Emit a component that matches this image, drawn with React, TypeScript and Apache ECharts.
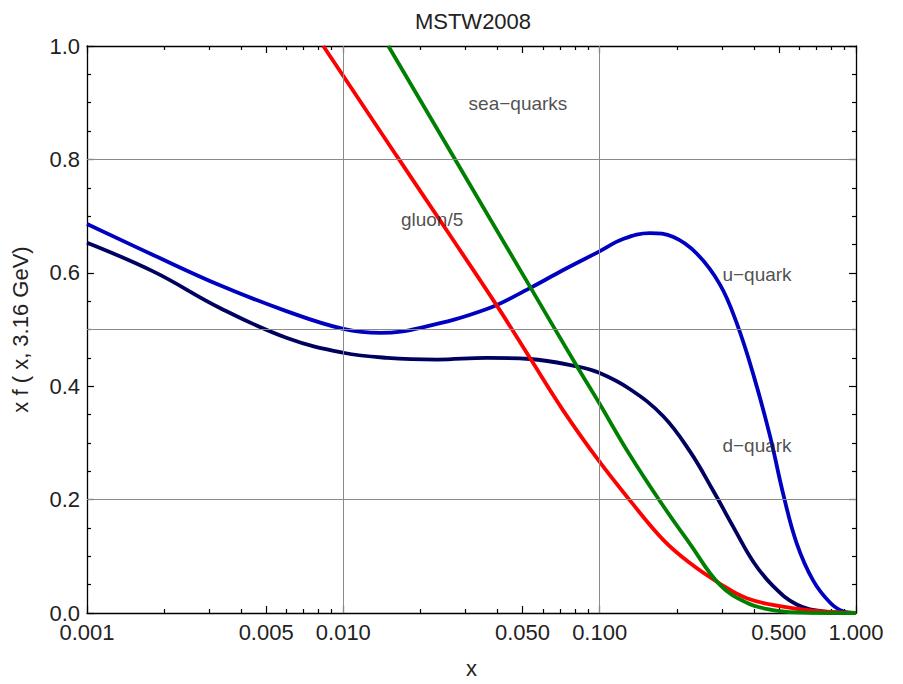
import React, { useEffect, useRef } from "react";
import * as echarts from "echarts";

// u-quark
const uX = [0.001, 0.00182, 0.0033, 0.00603, 0.01, 0.014, 0.02, 0.0363, 0.0534, 0.0721, 0.099, 0.124, 0.157, 0.194, 0.239, 0.294, 0.342, 0.398, 0.462, 0.52, 0.587, 0.681, 0.793, 0.89, 1.0];
const uY = [0.686, 0.631, 0.578, 0.532, 0.501, 0.494, 0.503, 0.536, 0.573, 0.605, 0.637, 0.66, 0.67, 0.663, 0.634, 0.58, 0.512, 0.42, 0.312, 0.21, 0.123, 0.057, 0.018, 0.003, 0];
// d-quark
const dX = [0.001, 0.00182, 0.0033, 0.00603, 0.01, 0.0148, 0.0232, 0.0363, 0.0534, 0.0813, 0.099, 0.131, 0.177, 0.225, 0.277, 0.332, 0.398, 0.476, 0.587, 0.74, 1.0];
const dY = [0.653, 0.602, 0.538, 0.485, 0.459, 0.45, 0.447, 0.45, 0.448, 0.435, 0.424, 0.395, 0.347, 0.285, 0.216, 0.152, 0.09, 0.047, 0.015, 0.003, 0];
// gluon/5
const gX = [0.00835, 0.01, 0.0161, 0.0253, 0.0396, 0.0534, 0.0721, 0.099, 0.131, 0.177, 0.225, 0.294, 0.375, 0.505, 0.68, 1.0];
const gY = [1.0, 0.947, 0.807, 0.675, 0.543, 0.45, 0.357, 0.269, 0.199, 0.129, 0.088, 0.052, 0.026, 0.012, 0.004, 0];
// sea-quarks
const sX = [0.01498, 0.0268, 0.0534, 0.0813, 0.099, 0.131, 0.172, 0.225, 0.294, 0.375, 0.462, 0.587, 0.8, 1.0];
const sY = [1.0, 0.806, 0.576, 0.436, 0.372, 0.279, 0.197, 0.122, 0.05, 0.018, 0.006, 0.001, 0.0, 0];

// axis ticks
const xMajorTicks = [0.001, 0.005, 0.01, 0.05, 0.1, 0.5, 1];
const xMinorTicks = [0.002, 0.003, 0.004, 0.006, 0.007, 0.008, 0.009, 0.02, 0.03, 0.04, 0.06, 0.07, 0.08, 0.09, 0.2, 0.3, 0.4, 0.6, 0.7, 0.8, 0.9];
const xGridLines = [0.01, 0.1];
const yGridLines = [0.2, 0.5, 0.8];

// annotations
const noteText = ["sea\u2212quarks", "gluon/5", "u\u2212quark", "d\u2212quark"];
const noteX = [0.048, 0.0222, 0.411, 0.411];
const noteY = [0.899, 0.694, 0.597, 0.296];

const FONT = "Liberation Sans";

const zip = (xs: number[], ys: number[]) => xs.map((x, i) => [x, ys[i]]);

export default function App() {
  const ref = useRef<HTMLDivElement>(null);
  useEffect(() => {
    if (!ref.current) return;
    const chart = echarts.init(ref.current, undefined, { renderer: "svg" });
    const baseX = {
      type: "log" as const,
      logBase: 10,
      min: 0.001,
      max: 1,
      gridIndex: 0,
      splitLine: { show: false },
      minorTick: { show: false },
      minorSplitLine: { show: false },
    };
    const baseY = {
      type: "value" as const,
      min: 0,
      max: 1,
      interval: 0.2,
      gridIndex: 0,
      splitLine: { show: false },
    };
    const lineSeries = (name: string, xs: number[], ys: number[], color: string) => ({
      name,
      type: "line",
      data: zip(xs, ys),
      showSymbol: false,
      symbol: "none",
      smooth: 0.4,
      clip: true,
      lineStyle: { color, width: 3.8 },
      z: 3,
    });
    chart.setOption({
      animation: false,
      backgroundColor: "#ffffff",
      title: {
        text: "MSTW2008",
        left: 468,
        top: 5,
        textAlign: "center",
        textStyle: { fontFamily: FONT, fontSize: 22, fontWeight: "normal", color: "#222" },
      },
      grid: { left: 87, right: 47, top: 46, bottom: 67, containLabel: false },
      xAxis: [
        {
          ...baseX,
          position: "bottom",
          name: "x",
          nameLocation: "middle",
          nameGap: 44,
          nameTextStyle: { fontFamily: FONT, fontSize: 22, color: "#222" },
          axisLine: { show: true, lineStyle: { color: "#000", width: 1.3 } },
          axisTick: { show: true, inside: true, length: 7, customValues: xMajorTicks, lineStyle: { color: "#000", width: 1.2 } },
          axisLabel: {
            show: true,
            customValues: xMajorTicks,
            margin: 8,
            fontFamily: FONT,
            fontSize: 22,
            color: "#222",
            formatter: (v: number) => Number(v).toFixed(3),
          },
        },
        {
          ...baseX,
          position: "bottom",
          axisLine: { show: false },
          axisTick: { show: true, inside: true, length: 4, customValues: xMinorTicks, lineStyle: { color: "#000", width: 1.2 } },
          axisLabel: { show: false },
        },
        {
          ...baseX,
          position: "top",
          axisLine: { show: true, lineStyle: { color: "#000", width: 1.3 } },
          axisTick: { show: true, inside: true, length: 7, customValues: xMajorTicks, lineStyle: { color: "#000", width: 1.2 } },
          axisLabel: { show: false },
        },
        {
          ...baseX,
          position: "top",
          axisLine: { show: false },
          axisTick: { show: true, inside: true, length: 4, customValues: xMinorTicks, lineStyle: { color: "#000", width: 1.2 } },
          axisLabel: { show: false },
        },
      ],
      yAxis: [
        {
          ...baseY,
          position: "left",
          name: "x f ( x, 3.16 GeV)",
          nameLocation: "middle",
          nameGap: 56,
          nameRotate: 90,
          nameTextStyle: { fontFamily: FONT, fontSize: 22, color: "#222" },
          axisLine: { show: true, lineStyle: { color: "#000", width: 1.3 } },
          axisTick: { show: true, inside: true, length: 7, lineStyle: { color: "#000", width: 1.2 } },
          minorTick: { show: true, splitNumber: 4, length: 4, lineStyle: { color: "#000", width: 1.2 } },
          axisLabel: {
            show: true,
            margin: 7,
            fontFamily: FONT,
            fontSize: 22,
            color: "#222",
            formatter: (v: number) => Number(v).toFixed(1),
          },
        },
        {
          ...baseY,
          position: "right",
          axisLine: { show: true, lineStyle: { color: "#000", width: 1.3 } },
          axisTick: { show: true, inside: true, length: 7, lineStyle: { color: "#000", width: 1.2 } },
          minorTick: { show: true, splitNumber: 4, length: 4, lineStyle: { color: "#000", width: 1.2 } },
          axisLabel: { show: false },
        },
      ],
      series: [
        {
          name: "grid",
          type: "line",
          data: [],
          z: 1,
          silent: true,
          markLine: {
            silent: true,
            symbol: "none",
            animation: false,
            label: { show: false },
            lineStyle: { color: "#8a8a8a", width: 1, type: "solid" },
            data: [
              ...xGridLines.map((v) => ({ xAxis: v })),
              ...yGridLines.map((v) => ({ yAxis: v })),
            ],
          },
        },
        lineSeries("u-quark", uX, uY, "#0000c0"),
        lineSeries("d-quark", dX, dY, "#00005e"),
        lineSeries("gluon/5", gX, gY, "#ff0000"),
        lineSeries("sea-quarks", sX, sY, "#008000"),
        {
          name: "notes",
          type: "scatter",
          symbolSize: 0,
          silent: true,
          z: 5,
          data: noteText.map((t, i) => ({ value: [noteX[i], noteY[i]], name: t })),
          label: {
            show: true,
            position: "inside",
            formatter: (p: any) => p.name,
            fontFamily: FONT,
            fontSize: 19,
            color: "#222",
          },
        },
      ],
    });
    return () => chart.dispose();
  }, []);
  return (
    <div
      ref={ref}
      style={{ position: "fixed", left: 0, top: 0, width: 903, height: 684, background: "#fff" }}
    />
  );
}
